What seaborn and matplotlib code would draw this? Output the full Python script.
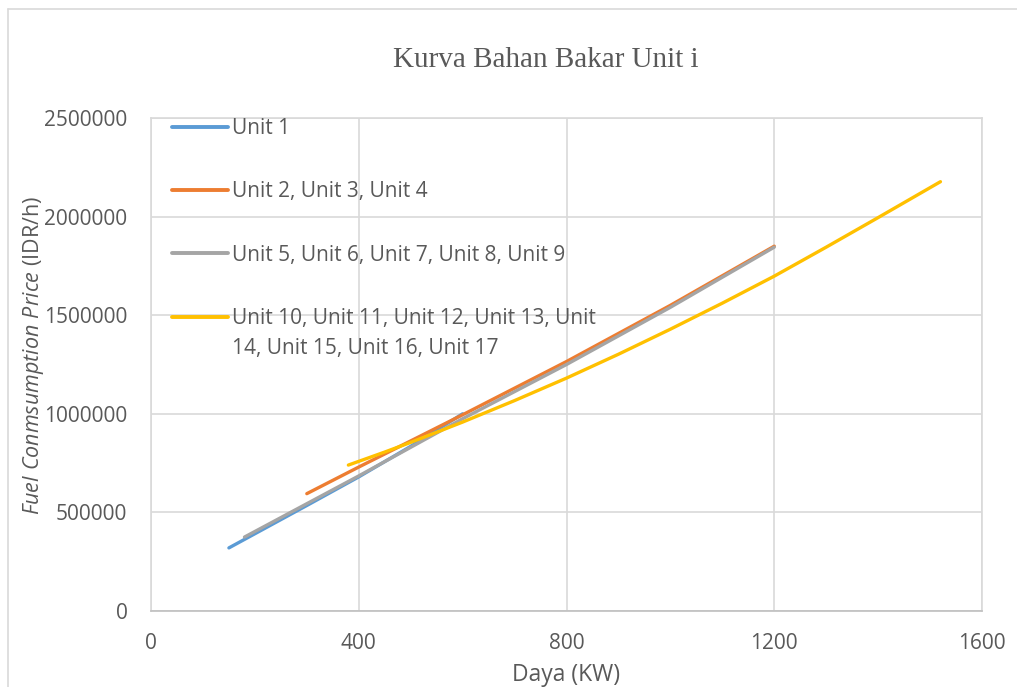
import matplotlib
matplotlib.use("Agg")
import matplotlib.pyplot as plt
import seaborn as sns
import pandas as pd
from matplotlib.lines import Line2D

# ---- data ----
unit1_x = [150, 300, 400, 500, 600]
unit1_y = [320000, 535000, 680000, 835000, 1000000]

unit2_x = [300, 400, 600, 800, 1000, 1200]
unit2_y = [595000, 730000, 995000, 1265000, 1550000, 1850000]

unit5_x = [180, 400, 600, 800, 1000, 1200]
unit5_y = [375000, 685000, 975000, 1250000, 1540000, 1845000]

unit10_x = [380, 450, 500, 600, 700, 800, 900, 1000, 1100, 1200, 1300, 1400, 1520]
unit10_y = [740000, 806000, 855000, 958000, 1067000, 1181000, 1302000, 1429000,
            1561000, 1698000, 1845000, 1995000, 2177000]

series_names = ["Unit 1", "Unit 2, Unit 3, Unit 4",
                "Unit 5, Unit 6, Unit 7, Unit 8, Unit 9",
                "Unit 10, Unit 11, Unit 12, Unit 13, Unit 14, Unit 15, Unit 16, Unit 17"]
legend_lines = ["Unit 1", "Unit 2, Unit 3, Unit 4",
                "Unit 5, Unit 6, Unit 7, Unit 8, Unit 9",
                "Unit 10, Unit 11, Unit 12, Unit 13, Unit"]
legend_wrap = "14, Unit 15, Unit 16, Unit 17"
x_ticks = [0, 400, 800, 1200, 1600]
y_ticks = [0, 500000, 1000000, 1500000, 2000000, 2500000]

colors = ["#5B9BD5", "#ED7D31", "#A5A5A5", "#FFC000"]
TXT = "#595959"

frames = []
for name, xs, ys in zip(series_names, [unit1_x, unit2_x, unit5_x, unit10_x],
                        [unit1_y, unit2_y, unit5_y, unit10_y]):
    frames.append(pd.DataFrame({"Daya": xs, "Price": ys, "Series": name}))
df = pd.concat(frames, ignore_index=True)

sns.set_theme(style="white")
plt.rcParams["font.family"] = ["Open Sans", "DejaVu Sans"]
plt.rcParams["mathtext.fontset"] = "custom"
plt.rcParams["mathtext.it"] = "Open Sans:italic"
plt.rcParams["mathtext.rm"] = "Open Sans"

fig = plt.figure(figsize=(10.17, 6.87), dpi=100)
ax = fig.add_axes([151 / 1017, 1 - 611 / 687, (982 - 151) / 1017, (611 - 118) / 687])

sns.lineplot(data=df, x="Daya", y="Price", hue="Series", hue_order=series_names,
             palette=colors, linewidth=2.4, ax=ax, legend=False, sort=False,
             solid_capstyle="round")

ax.set_xlim(0, 1600)
ax.set_ylim(0, 2500000)
ax.set_xticks(x_ticks)
ax.set_yticks(y_ticks)
ax.set_xticklabels([str(v) for v in x_ticks])
ax.set_yticklabels([str(v) for v in y_ticks])
ax.grid(True, color="#D9D9D9", linewidth=1.2)
for s in ax.spines.values():
    s.set_color("#D9D9D9")
    s.set_linewidth(1.2)
ax.spines["bottom"].set_color("#BFBFBF")
ax.tick_params(axis="both", length=0, colors=TXT, labelsize=15)
ax.tick_params(axis="y", pad=17)
ax.tick_params(axis="x", pad=16)

ax.set_xlabel("Daya (KW)", fontsize=16.5, color=TXT)
ax.xaxis.set_label_coords(0.5, (611 - 663) / 493)
ax.set_ylabel(r"$\it{Fuel\ Conmsumption\ Price}$ (IDR/h)", fontsize=15.5, color=TXT)
ax.yaxis.set_label_coords((46 - 151) / 831, (611 - 356) / 493)

fig.text(546 / 1017, 1 - 60 / 687, "Kurva Bahan Bakar Unit i", ha="center",
         va="center", fontsize=21, color=TXT, family="Liberation Serif")

handles = [Line2D([0], [0], color=c, linewidth=2.8) for c in colors]
leg = ax.legend(handles, legend_lines, loc="upper left",
                bbox_to_anchor=(21 / 831, 1.0), frameon=False, fontsize=15,
                labelcolor=TXT, handlelength=2.7, handletextpad=0.2,
                labelspacing=2.03, borderaxespad=0, borderpad=0)

fig.canvas.draw()
t_last = leg.get_texts()[3]
bb = t_last.get_window_extent().transformed(fig.transFigure.inverted())
fig.text(bb.x0, bb.y0 - 30 / 687 + (bb.y1 - bb.y0) / 2, legend_wrap, ha="left",
         va="center", fontsize=15, color=TXT)

# outer chart border (left and top edges)
fig.add_artist(Line2D([8 / 1017, 8 / 1017], [0, 1 - 9 / 687], color="#D9D9D9",
                      linewidth=1.2, transform=fig.transFigure))
fig.add_artist(Line2D([8 / 1017, 1], [1 - 9 / 687, 1 - 9 / 687], color="#D9D9D9",
                      linewidth=1.2, transform=fig.transFigure))

fig.savefig("out.png", dpi=100)
